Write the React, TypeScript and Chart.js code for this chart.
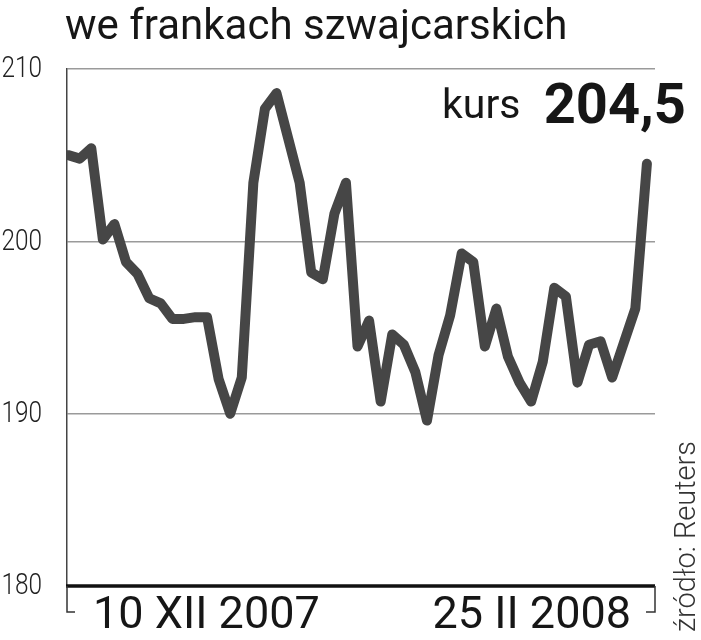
import React, { useEffect, useRef } from 'react';
import { Chart, registerables } from 'chart.js';

Chart.register(...registerables);

const titleText = 'we frankach szwajcarskich';
const rateLabel = 'kurs';
const rateValue = '204,5';
const startLabel = '10 XII 2007';
const endLabel = '25 II 2008';
const sourceLabel = 'źródło: Reuters';

const yMin = 180;
const yMax = 210;
const yStep = 10;

const rates = [
  205.0, 204.8, 205.4, 200.1, 201.0, 198.8, 198.1, 196.7, 196.4, 195.5,
  195.5, 195.6, 195.6, 192.0, 190.0, 192.1, 203.4, 207.7, 208.6, 206.0,
  203.4, 198.2, 197.8, 201.6, 203.4, 193.9, 195.4, 190.7, 194.6, 194.0,
  192.4, 189.6, 193.4, 195.7, 199.3, 198.8, 193.9, 196.1, 193.3, 191.8,
  190.7, 193.0, 197.3, 196.8, 191.8, 194.0, 194.2, 192.1, 194.1, 196.1,
  204.5,
];

const decorPlugin = {
  id: 'decor',
  afterDraw(chart: any) {
    const { ctx, chartArea: a, scales } = chart;
    const yScale = scales.y;
    const yBase = yScale.getPixelForValue(yMin);
    ctx.save();
    // heavy baseline
    ctx.strokeStyle = '#111';
    ctx.lineWidth = 3.5;
    ctx.beginPath();
    ctx.moveTo(a.left - 1, yBase);
    ctx.lineTo(a.right, yBase);
    ctx.stroke();
    // brackets under the axis
    ctx.strokeStyle = '#333';
    ctx.lineWidth = 1.5;
    ctx.beginPath();
    ctx.moveTo(a.left, yBase);
    ctx.lineTo(a.left, yBase + 26);
    ctx.lineTo(a.left + 8, yBase + 26);
    ctx.moveTo(a.right, yBase);
    ctx.lineTo(a.right, yBase + 26);
    ctx.lineTo(a.right - 9, yBase + 26);
    ctx.stroke();

    // y tick labels (condensed)
    ctx.fillStyle = '#222';
    ctx.textAlign = 'right';
    ctx.textBaseline = 'middle';
    ctx.font = '300 29px Roboto';
    for (const t of yScale.ticks) {
      const py = yScale.getPixelForValue(t.value);
      ctx.save();
      ctx.translate(42, py + 1);
      ctx.scale(0.84, 1);
      ctx.fillText(String(t.value), 0, 0);
      ctx.restore();
    }

    ctx.fillStyle = '#161616';
    ctx.textBaseline = 'alphabetic';
    // title
    ctx.textAlign = 'left';
    ctx.font = '400 42px Roboto';
    ctx.fillText(titleText, 65, 39);
    // current rate
    ctx.font = '400 41px Roboto';
    ctx.fillText(rateLabel, 442, 118);
    ctx.textAlign = 'right';
    ctx.font = '700 56px Roboto';
    ctx.fillText(rateValue, 686, 123);
    // date labels
    ctx.font = '400 45px Roboto';
    ctx.textAlign = 'left';
    ctx.fillText(startLabel, 93, 628);
    ctx.textAlign = 'right';
    ctx.fillText(endLabel, 631, 628);
    // source
    ctx.translate(695, 632);
    ctx.rotate(-Math.PI / 2);
    ctx.textAlign = 'left';
    ctx.font = '300 29px Roboto';
    ctx.fillStyle = '#333';
    ctx.fillText(sourceLabel, 0, 0);
    ctx.restore();
  },
};

export default function App() {
  const canvasRef = useRef<HTMLCanvasElement | null>(null);

  useEffect(() => {
    const canvas = canvasRef.current;
    if (!canvas) return;
    const chart = new Chart(canvas, {
      type: 'line',
      data: {
        datasets: [
          {
            data: rates.map((v, i) => ({ x: i, y: v })),
            borderColor: '#464646',
            borderWidth: 10,
            borderJoinStyle: 'round',
            borderCapStyle: 'round',
            pointRadius: 0,
            tension: 0,
            fill: false,
          },
        ],
      },
      options: {
        animation: false,
        responsive: false,
        devicePixelRatio: 1,
        layout: { padding: { top: 69, right: 46, bottom: 54, left: 0 } },
        plugins: {
          legend: { display: false },
          tooltip: { enabled: false },
          title: { display: false },
        },
        scales: {
          x: {
            type: 'linear',
            min: -0.1,
            max: 50.7,
            display: false,
          },
          y: {
            min: yMin,
            max: yMax,
            afterFit(scale: any) {
              scale.width = 67;
            },
            ticks: {
              stepSize: yStep,
              display: false,
            },
            grid: {
              color: '#9a9a9a',
              lineWidth: 1.5,
              drawTicks: false,
            },
            border: { display: true, color: '#444', width: 1.5 },
          },
        },
      },
      plugins: [decorPlugin],
    });
    return () => chart.destroy();
  }, []);

  return (
    <div style={{ position: 'absolute', left: 0, top: 0, width: 701, height: 640, background: '#fff' }}>
      <canvas ref={canvasRef} width={701} height={640} style={{ display: 'block' }} />
    </div>
  );
}
